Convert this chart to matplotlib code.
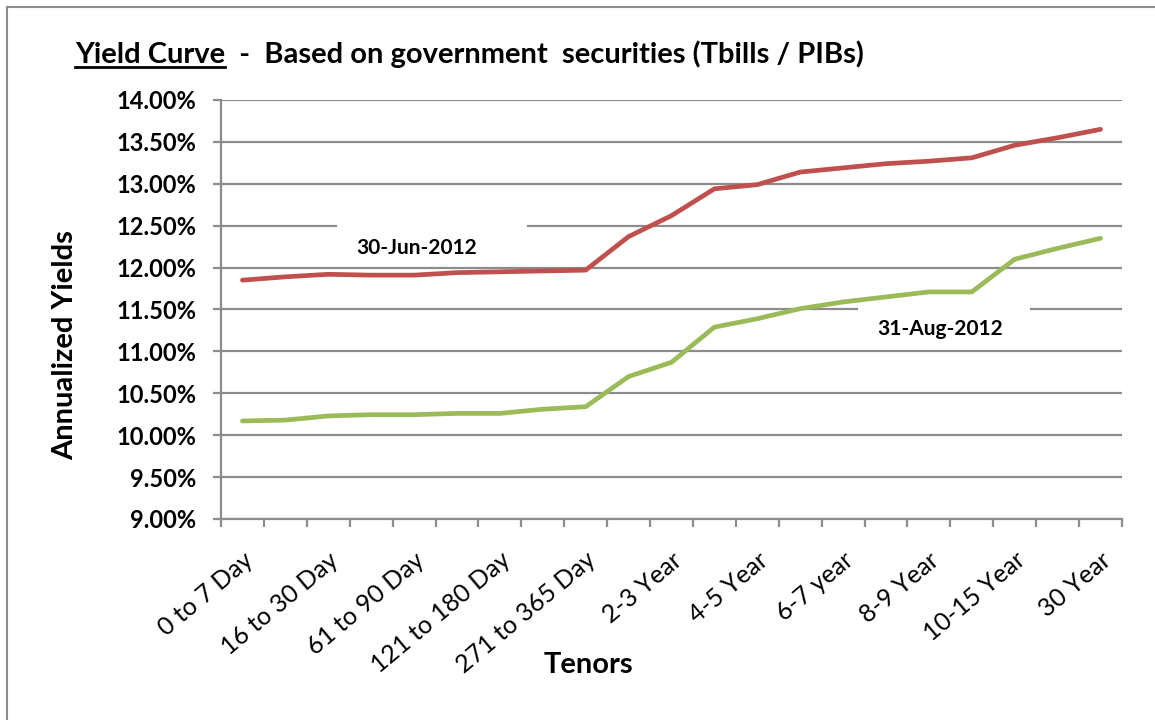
import matplotlib
matplotlib.use("Agg")
import matplotlib.pyplot as plt
from matplotlib.lines import Line2D
from matplotlib.patches import Rectangle
from matplotlib.transforms import IdentityTransform
from matplotlib.ticker import FuncFormatter, MultipleLocator

# tenors (only every other one is labelled on the axis)
tenors = ['0 to 7 Day', '8 to 15 Day', '16 to 30 Day', '31 to 60 Day', '61 to 90 Day',
          '91 to 120 Day', '121 to 180 Day', '181 to 270 Day', '271 to 365 Day', '1-2 Year',
          '2-3 Year', '3-4 Year', '4-5 Year', '5-6 Year', '6-7 year', '7-8 Year',
          '8-9 Year', '9-10 Year', '10-15 Year', '15-20 Year', '30 Year']

jun_2012 = [11.85, 11.89, 11.92, 11.91, 11.91, 11.94, 11.95, 11.96, 11.97, 12.37,
            12.62, 12.94, 12.99, 13.14, 13.19, 13.24, 13.27, 13.31, 13.46, 13.55, 13.65]
aug_2012 = [10.17, 10.18, 10.23, 10.245, 10.245, 10.26, 10.26, 10.31, 10.34, 10.70,
            10.87, 11.29, 11.39, 11.51, 11.59, 11.65, 11.71, 11.71, 12.10, 12.23, 12.35]

series_names = ['30-Jun-2012', '31-Aug-2012']
series_colors = ['#C0504D', '#9BBB59']
label_pos = [(4.07, 12.235), (16.26, 11.267)]
# white label box margins in px: left, right, top, bottom
box_margin = [(20, 50, 16, -4), (19, 27, 16, 6)]

FONT = 'Lato'
GRID = '#8C8C8C'

W, H = 1155, 720
fig = plt.figure(figsize=(W / 100, H / 100), dpi=100)
ax = fig.add_axes([221 / W, 1 - 519 / H, (1122 - 221) / W, (519 - 100) / H])

x = list(range(len(tenors)))
for vals, col in zip([jun_2012, aug_2012], series_colors):
    ax.plot(x, vals, color=col, lw=3.4, solid_capstyle='round', solid_joinstyle='round', zorder=4)

labels = []
for name, (lx, ly) in zip(series_names, label_pos):
    labels.append(ax.text(lx, ly, name, ha='center', va='center',
                          fontsize=15, fontweight='bold', family=FONT, zorder=3.5))

ax.set_xlim(-0.5, len(tenors) - 0.5)
ax.set_ylim(9.0, 14.0)
ax.yaxis.set_major_locator(MultipleLocator(0.5))
ax.yaxis.set_major_formatter(FuncFormatter(lambda v, p: f'{v:.2f}%'))
ax.grid(axis='y', color=GRID, lw=1.6, zorder=0)
ax.set_axisbelow(True)

ax.set_xticks(x)
ax.set_xticklabels([t if i % 2 == 0 else '' for i, t in enumerate(tenors)],
                   rotation=40, ha='right', va='top', rotation_mode='anchor',
                   fontsize=18, family=FONT)
ax.set_xticks([i - 0.5 for i in range(len(tenors) + 1)], minor=True)
ax.tick_params(axis='x', which='major', length=0, pad=21)
ax.tick_params(axis='x', which='minor', length=6, width=1.6, color=GRID, direction='out')
ax.tick_params(axis='y', length=6, width=1.6, color=GRID, direction='out', pad=12)
for lab in ax.get_yticklabels():
    lab.set_fontsize(17)
    lab.set_fontweight('bold')
    lab.set_family(FONT)

for s in ['top', 'right']:
    ax.spines[s].set_visible(False)
for s in ['left', 'bottom']:
    ax.spines[s].set_color(GRID)
    ax.spines[s].set_linewidth(1.6)

fig.text(588 / W, 1 - 665 / H, 'Tenors', ha='center', va='center',
         fontsize=21, fontweight='bold', family=FONT)
fig.text(65 / W, 1 - 345 / H, 'Annualized Yields', ha='center', va='center', rotation=90,
         fontsize=21, fontweight='bold', family=FONT)

# title with underlined first part
ty = 1 - 63 / H
t1 = fig.text(75 / W, ty, 'Yield Curve', ha='left', va='baseline',
              fontsize=21, fontweight='bold', family=FONT)
fig.canvas.draw()
bb = t1.get_window_extent()
fig.text(bb.x1 / W, ty, '  -  Based on government  securities (Tbills / PIBs)',
         ha='left', va='baseline', fontsize=21, fontweight='bold', family=FONT)
uy = (bb.y0 + 1) / H
fig.add_artist(Line2D([bb.x0 / W, bb.x1 / W], [uy, uy], color='black', lw=2))

# white boxes behind the series labels (they cut the gridlines, as in Excel)
for txt, (ml, mr, mt, mb) in zip(labels, box_margin):
    e = txt.get_window_extent()
    ax.add_artist(Rectangle((e.x0 - ml, e.y0 - mb), e.width + ml + mr, e.height + mt + mb,
                            transform=IdentityTransform(), facecolor='white',
                            edgecolor='none', zorder=3))

# chart border (left and top visible)
fig.add_artist(Line2D([7 / W, 7 / W], [0, 1 - 7 / H], color='#8C8C8C', lw=1.5))
fig.add_artist(Line2D([7 / W, 1], [1 - 7 / H, 1 - 7 / H], color='#8C8C8C', lw=1.5))

fig.savefig('out.png', dpi=100)
